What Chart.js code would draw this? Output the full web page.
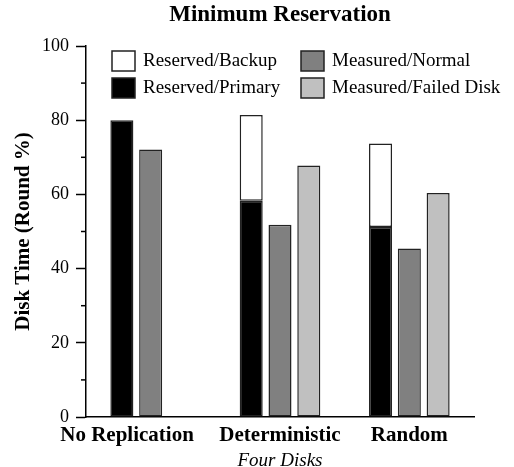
<!DOCTYPE html>
<html>
<head>
<meta charset="utf-8">
<script src="https://cdn.jsdelivr.net/npm/chart.js@4"></script>
<style>
  body { margin: 0; background: #fff; }
  #wrap { width: 514px; height: 467px; }
</style>
</head>
<body>
<div id="wrap"><canvas id="diskChart"></canvas></div>
<script>
const categories = ['No Replication', 'Deterministic', 'Random'];
const reservedPrimary = [80, 58.3, 51.2];
const reservedBackup = [null, 23.1, 22.5];
const measuredNormal = [72.1, 51.8, 45.4];
const measuredFailed = [null, 67.8, 60.4];
const yTicks = [0, 20, 40, 60, 80, 100];
const yMinorTicks = [10, 30, 50, 70, 90];

const serif = 'Liberation Serif';
Chart.defaults.font.family = serif;
Chart.defaults.color = '#000';

// legend sits inside the plot, 2 x 2, dataset indexes per row
const legendRows = [[1, 2], [0, 3]];

const boxLegend = {
    id: 'boxLegend',
    afterDraw(chart) {
        const ctx = chart.ctx;
        const colX = [112, 301];
        const rowY = [51, 78];
        ctx.save();
        ctx.font = '19px "' + serif + '"';
        ctx.textBaseline = 'middle';
        ctx.lineWidth = 1.5;
        legendRows.forEach((row, r) => {
            row.forEach((dsIndex, c) => {
                const ds = chart.data.datasets[dsIndex];
                ctx.fillStyle = ds.backgroundColor;
                ctx.fillRect(colX[c], rowY[r], 23, 20);
                ctx.strokeStyle = '#222';
                ctx.strokeRect(colX[c], rowY[r], 23, 20);
                ctx.fillStyle = '#000';
                ctx.fillText(ds.label, colX[c] + 31, rowY[r] + 10);
            });
        });
        ctx.restore();
    }
};

const minorTicks = {
    id: 'minorTicks',
    afterDraw(chart) {
        const ctx = chart.ctx;
        const y = chart.scales.y;
        ctx.save();
        ctx.strokeStyle = '#000';
        ctx.lineWidth = 1.5;
        yMinorTicks.forEach(v => {
            const py = y.getPixelForValue(v);
            ctx.beginPath();
            ctx.moveTo(y.right - 5, py);
            ctx.lineTo(y.right, py);
            ctx.stroke();
        });
        ctx.restore();
    }
};

function barSet(label, data, stack, color) {
    return {
        label: label,
        data: data,
        stack: stack,
        backgroundColor: color,
        borderColor: '#222',
        borderWidth: 1.5,
        borderSkipped: false,
        barPercentage: 0.8,
        categoryPercentage: 0.668
    };
}

const ctx = document.getElementById('diskChart').getContext('2d');
new Chart(ctx, {
    type: 'bar',
    data: {
        labels: categories,
        datasets: [
            barSet('Reserved/Primary', reservedPrimary, 'reserved', '#000000'),
            barSet('Reserved/Backup', reservedBackup, 'reserved', '#ffffff'),
            barSet('Measured/Normal', measuredNormal, 'normal', '#808080'),
            barSet('Measured/Failed Disk', measuredFailed, 'failed', '#c0c0c0')
        ]
    },
    options: {
        responsive: true,
        maintainAspectRatio: false,
        animation: false,
        layout: { padding: { left: 0, right: 40, top: 0, bottom: 0 } },
        plugins: {
            legend: { display: false },
            tooltip: { enabled: false },
            title: {
                display: true,
                text: 'Minimum Reservation',
                fullSize: false,
                color: '#000',
                font: { size: 23, weight: 'bold' },
                padding: { top: 1, bottom: 17.4 }
            }
        },
        scales: {
            x: {
                stacked: true,
                afterFit(scale) { scale.height = 50; },
                grid: { display: false, drawTicks: false },
                border: { display: true, color: '#000', width: 1.5 },
                ticks: {
                    color: '#000',
                    font: { size: 21, weight: 'bold' },
                    padding: 6,
                    autoSkip: false,
                    maxRotation: 0,
                    // first label sits left of its bars in the original
                    callback: (v, i) => i === 0 ? categories[i] + '         ' : categories[i]
                },
                title: {
                    display: true,
                    text: 'Four Disks',
                    color: '#000',
                    font: { size: 19, style: 'italic', lineHeight: 1 },
                    padding: { top: 0, bottom: -3 }
                }
            },
            y: {
                stacked: true,
                min: 0,
                max: 100,
                afterFit(scale) { scale.width = 86; },
                afterBuildTicks(scale) { scale.ticks = yTicks.map(v => ({ value: v })); },
                grid: { drawOnChartArea: false, drawTicks: true, tickLength: 10, tickColor: '#000', tickWidth: 1.5 },
                border: { color: '#000', width: 1.5 },
                ticks: { color: '#000', font: { size: 18 }, padding: 7 },
                title: {
                    display: true,
                    text: 'Disk Time (Round %)',
                    color: '#000',
                    font: { size: 21, weight: 'bold' },
                    padding: { top: 11, bottom: 0 }
                }
            }
        }
    },
    plugins: [boxLegend, minorTicks]
});
</script>
</body>
</html>
